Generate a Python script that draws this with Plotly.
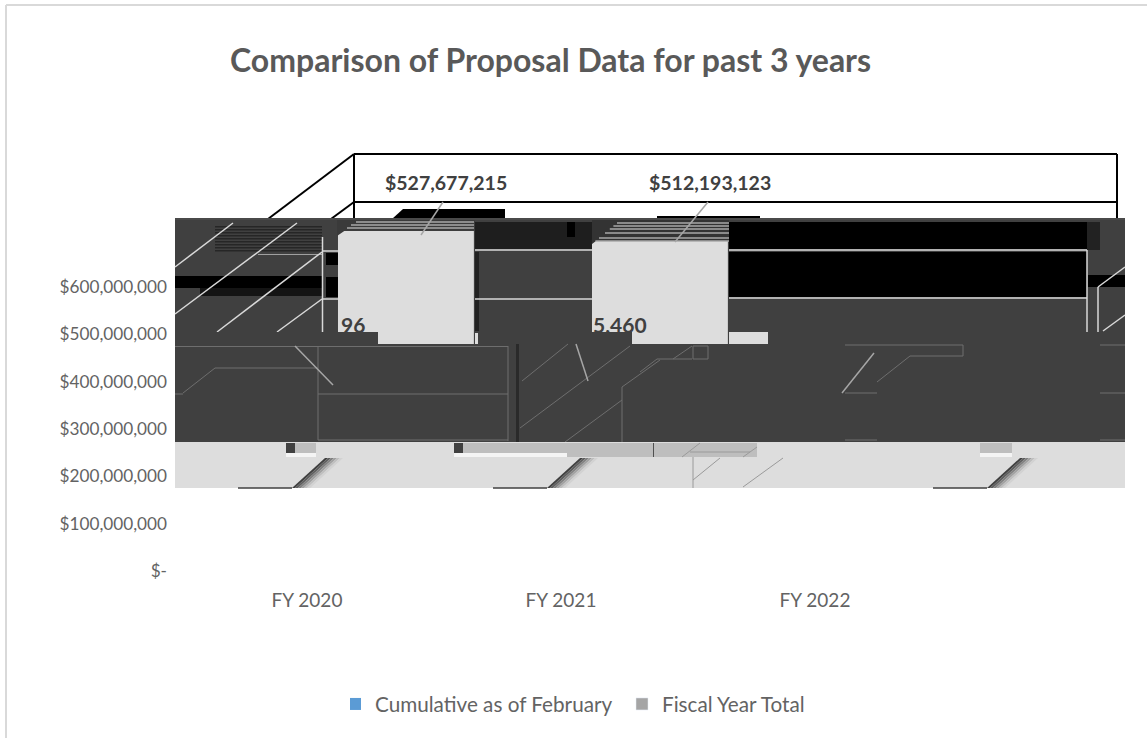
"""Comparison of Proposal Data - 3D column chart as rendered, with its paint artefacts."""

import plotly.graph_objects as go

WIDTH, HEIGHT = 1147, 738
PLOT_L, PLOT_R, PLOT_T, PLOT_B = 175, 1125, 145, 571

CATEGORIES = ["FY 2020", "FY 2021", "FY 2022"]
CUMULATIVE = [205_677_896, 213_215_460, 188_000_000]
FISCAL_TOTAL = [527_677_215, 512_193_123, None]
Y_TICKS = [0, 100_000_000, 200_000_000, 300_000_000, 400_000_000, 500_000_000, 600_000_000]
Y_LABELS = ["$-", "$100,000,000", "$200,000,000", "$300,000,000",
            "$400,000,000", "$500,000,000", "$600,000,000"]
DEPTH = 190_600_000  # 3D floor offset of the columns

_C_DARK = "#404040"
_C_LIGHT = "#DDDDDD"
_C_LINE = "#D9D9D9"
_C_LEADER = "#A6A6A6"
_C_TEXT = "#595959"
_C_TICK = "#636363"
_FONT = "Lato, Arial, sans-serif"


def _px(x):
    return (x - PLOT_L) / (PLOT_R - PLOT_L)


def _py(y):
    return (PLOT_B - y) / (PLOT_B - PLOT_T)


def rect(x0, y0, x1, y1, color, layer="above"):
    return dict(type="rect", xref="paper", yref="paper", layer=layer,
                x0=_px(x0), x1=_px(x1), y0=_py(y0), y1=_py(y1),
                fillcolor=color, line=dict(width=0))


def line(x0, y0, x1, y1, color=_C_LINE, width=1, layer="above"):
    return dict(type="line", xref="paper", yref="paper", layer=layer,
                x0=_px(x0), x1=_px(x1), y0=_py(y0), y1=_py(y1),
                line=dict(color=color, width=width))


def poly(points, color, layer="above"):
    path = "M " + " L ".join(f"{_px(x):.5f} {_py(y):.5f}" for x, y in points) + " Z"
    return dict(type="path", xref="paper", yref="paper", layer=layer, path=path,
                fillcolor=color, line=dict(width=0))


def smear(x0):
    """Slanted dark-to-light streak on the light band."""
    greys = ["#404040", "#5E5E5E", "#808080", "#A0A0A0", "#BEBEBE", "#D2D2D2"]
    out = [line(x0 - 54, 488, x0, 488, "#404040", 1.5)]
    for k, c in enumerate(greys):
        a = x0 + k * 3
        out.append(poly([(a, 488), (a + 33, 458), (a + 36, 458), (a + 3, 488)], c))
    return out


def back_layer():
    s = [rect(PLOT_L, 219, PLOT_R, 344, _C_DARK, "below")]
    # black slabs behind the columns
    s += [rect(175, 276, 322, 288, "#000000", "below"),
          rect(200, 288, 322, 296, "#141414", "below")]
    for y0 in range(226, 252, 3):
        s.append(rect(215, y0, 322, y0 + 1.5, "#262626", "below"))
    s += [
        rect(475, 222, 620, 249, "#1E1E1E", "below"),
        rect(567, 222, 575, 237, "#000000", "below"),
        rect(475, 252, 479, 331, "#222222", "below"),
        rect(729, 222, 1087, 249, "#000000", "below"),
        rect(729, 252, 1087, 297, "#000000", "below"),
        rect(1087, 222, 1100, 250, "#222222", "below"),
        rect(1088, 275, 1125, 287, "#000000", "below"),
        rect(326, 253, 338, 265, "#000000", "below"),
        rect(326, 277, 338, 297, "#000000", "below"),
    ]
    s.append(line(258, 254.5, 322, 254.5, "#A0A0A0", 1, "below"))
    for seg in [(322, 251, 338, 251), (322, 299, 338, 299), (475, 250, 592, 250),
                (475, 299, 592, 299), (729, 250, 1087, 250), (729, 298, 1087, 298),
                (322.5, 237, 322.5, 332), (1087, 250, 1087, 332), (1098, 287, 1098, 332),
                (1098, 287, 1125, 267), (1103, 331, 1125, 315),
                (175, 267, 233, 223), (175, 314, 297, 223),
                (217, 332, 322, 252), (277, 332, 322, 299)]:
        s.append(line(*seg, width=1.5, layer="below"))
    return s


def front_layer():
    s = []
    # wire frame of the chart walls
    for seg in [(354, 154, 1117, 154), (354, 202, 1117, 202), (354, 154, 354, 219),
                (1117, 154, 1117, 219), (354, 154, 268, 219), (354, 202, 331, 219)]:
        s.append(line(*seg, "#000000", 2))
    s.append(poly([(392, 219), (403, 209), (505, 209), (505, 219)], "#000000"))
    s.append(rect(657, 216, 760, 219, "#000000"))
    s.append(rect(PLOT_L, 218, PLOT_R, 220, "#4A4A4A"))

    # column tops, striped
    s.append(poly([(337, 220), (475, 220), (475, 230.5), (345, 230.5), (337, 236)], "#3A3A3A"))
    for y, x0 in [(222, 356), (225, 351), (228, 347)]:
        s.append(line(x0, y, 474, y, "#A8A8A8", 1.5))
    s.append(poly([(592, 220), (729, 220), (729, 241), (596, 241), (592, 244)], "#333333"))
    for y in (223, 226, 229, 233, 238, 241):
        s.append(line(593 + (243 - y) * 1.2, y, 729, y, "#A8A8A8", 1.5))
    s.append(line(421, 235, 443, 202, _C_LEADER, 1.5))
    s.append(line(675, 242, 708, 202, _C_LEADER, 1.5))

    # slab under the data labels
    s += [rect(175, 332, 338, 344, _C_DARK), rect(338, 332, 378, 344, _C_DARK),
          rect(478, 332, 632, 344, _C_DARK), rect(768, 332, 1125, 344, _C_DARK),
          rect(475, 333, 478, 344, _C_LIGHT), rect(729, 332, 768, 344, _C_LIGHT)]

    # dark band
    s.append(rect(PLOT_L, 344, PLOT_R, 442, _C_DARK))
    s.append(rect(516, 344, 519, 442, "#2A2A2A"))
    for seg in [(175, 346.5, 508, 346.5), (508, 346, 508, 441), (318, 346, 318, 440),
                (318, 394, 508, 394), (318, 440, 508, 440), (175, 394, 183, 394),
                (183, 393, 215, 368), (215, 368, 318, 368),
                (522, 381, 568, 344), (520, 428, 630, 346), (565, 442, 622, 400),
                (622, 387, 660, 360), (622, 387, 622, 442), (640, 372, 657, 359),
                (657, 359, 692, 359), (673, 359, 692, 346), (693, 346, 708, 346),
                (693, 359, 708, 359), (693, 346, 693, 359), (708, 346, 708, 359),
                (845, 345, 963, 345), (963, 345, 963, 356), (910, 356, 963, 356),
                (877, 382, 910, 356), (845, 393, 877, 393), (845, 440, 877, 440),
                (1100, 345, 1125, 345), (1100, 393, 1125, 393), (1100, 440, 1125, 440)]:
        s.append(line(*seg, "#6E6E6E", 1))
    s.append(line(295, 346, 333, 385, _C_LEADER, 1.5))
    s.append(line(576, 344, 588, 381, _C_LEADER, 1.5))
    s.append(line(842, 393, 874, 353, _C_LEADER, 1.5))

    # light band
    s.append(rect(PLOT_L, 442, PLOT_R, 488, _C_LIGHT))
    s += [rect(286, 443, 295, 453, _C_DARK), rect(295, 443, 316, 453, "#BEBEBE"),
          rect(286, 453, 316, 457, "#F4F4F4"),
          rect(454, 443, 463, 453, _C_DARK), rect(463, 443, 757, 457, "#BEBEBE"),
          rect(454, 453, 567, 457, "#F4F4F4"), rect(653, 443, 654, 457, "#505050"),
          rect(980, 443, 1012, 453, "#BEBEBE"), rect(980, 453, 1012, 457, "#F4F4F4")]
    for x0 in (292, 547, 987):
        s += smear(x0)
    for seg in [(693, 457, 693, 488), (693, 480, 720, 458), (743, 487, 783, 458),
                (682, 457, 700, 443), (743, 457, 757, 447), (690, 452, 750, 452)]:
        s.append(line(*seg, "#9A9A9A", 1))

    # chart area border: top and left only
    s += [line(6, 5, WIDTH, 5, _C_LINE, 2), line(6, 5, 6, HEIGHT, _C_LINE, 2)]
    return s


x_pos = list(range(len(CATEGORIES)))
fig = go.Figure()

fig.add_trace(go.Bar(
    x=x_pos, y=CUMULATIVE, base=DEPTH, name="Cumulative as of February",
    width=0.535, offset=-0.413, marker_color="#5B9BD5", marker_line_width=0,
))
fig.add_trace(go.Bar(
    x=x_pos, y=FISCAL_TOTAL, base=DEPTH, width=0.535, offset=0.122,
    marker_color=_C_LIGHT, marker_line_width=0, showlegend=False,
))
# legend swatch only: the column faces render much lighter than the key
fig.add_trace(go.Bar(x=[None], y=[None], name="Fiscal Year Total", marker_color="#A5A5A5"))

fig.update_xaxes(
    range=[(PLOT_L - 307) / 254, (PLOT_R - 307) / 254],
    tickvals=x_pos, ticktext=CATEGORIES, showgrid=False, zeroline=False,
    showline=False, ticks="", ticklabelstandoff=16,
    tickfont=dict(family=_FONT, size=19, color=_C_TICK),
)
fig.update_yaxes(
    range=[0, 900_000_000], tickvals=Y_TICKS, ticktext=Y_LABELS,
    showgrid=False, zeroline=False, showline=False, ticks="", ticklabelstandoff=7,
    tickfont=dict(family=_FONT, size=17.2, color=_C_TICK),
)

label_y = 820_000_000
annotations = [
    dict(x=0.547, y=label_y, text=f"<b>${FISCAL_TOTAL[0]:,}</b>", size=19.5),
    dict(x=1.587, y=label_y, text=f"<b>${FISCAL_TOTAL[1]:,}</b>", size=19.5),
    dict(x=0.182, y=520_000_000, text="<b>96</b>", size=21),
    dict(x=1.233, y=520_000_000, text="<b>5,460</b>", size=21),
]
for a in annotations:
    a.update(xref="x", yref="y", showarrow=False,
             font=dict(family=_FONT, size=a.pop("size"), color=_C_DARK))

fig.update_layout(
    width=WIDTH, height=HEIGHT, autosize=False,
    margin=dict(l=PLOT_L, r=WIDTH - PLOT_R, t=PLOT_T, b=HEIGHT - PLOT_B, pad=0),
    paper_bgcolor="white", plot_bgcolor="white",
    barmode="overlay",
    font=dict(family=_FONT, size=18, color=_C_TEXT),
    title=dict(
        text="<b>Comparison of Proposal Data for past 3 years</b>",
        xref="paper", x=(230 - PLOT_L) / (PLOT_R - PLOT_L), xanchor="left",
        yref="container", y=1 - 61 / HEIGHT, yanchor="middle",
        font=dict(family=_FONT, size=32, color=_C_TEXT),
    ),
    legend=dict(
        orientation="h", x=_px(350), xanchor="left", y=_py(704), yanchor="middle",
        indentation=-15, entrywidth=257, entrywidthmode="pixels",
        font=dict(family=_FONT, size=20.7, color=_C_TICK), bgcolor="rgba(0,0,0,0)",
    ),
    shapes=back_layer() + front_layer(),
    annotations=annotations,
)

fig.write_html("out.html", config={"displayModeBar": False},
               post_script="document.body.style.margin='0';")
